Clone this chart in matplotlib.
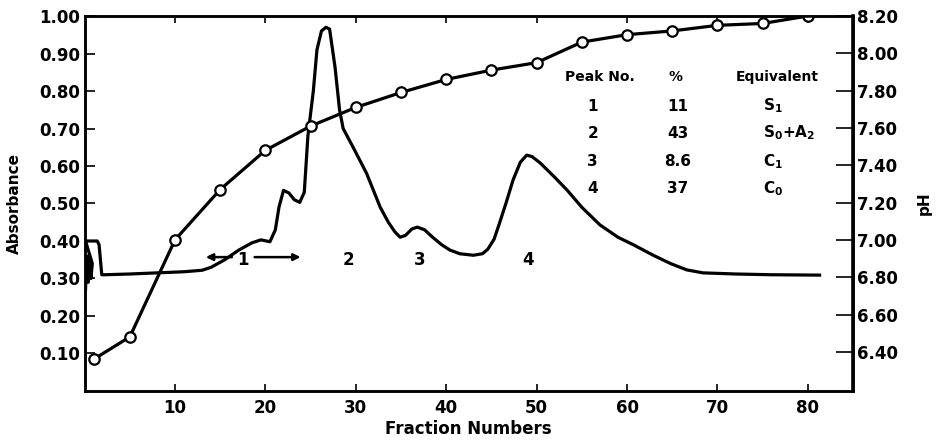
import numpy as np
import matplotlib.pyplot as plt

# Absorbance trace (fraction number, absorbance)
abs_x = [0.1, 0.25, 0.4, 0.55, 0.7, 0.85, 0.1, 1.4, 1.6, 1.9, 2.2, 5, 8, 11, 13, 14, 15.5, 17,
         18.5, 19.5, 20.5, 21.1, 21.5, 22.0, 22.6, 23.2, 23.8, 24.3, 24.7, 25.3, 25.7, 26.2,
         26.7, 27.1, 27.7, 28.2, 28.6, 29.7, 31.2, 32.7, 33.6, 34.3, 34.9, 35.5, 36.2, 36.8,
         37.6, 38.5, 39.5, 40.4, 41.5, 43.0, 44.0, 44.6, 45.3, 45.9, 46.6, 47.4, 48.2, 48.9,
         49.5, 50.4, 52, 53.4, 55, 57, 59, 60.7, 62.9, 64.8, 66.6, 68.4, 72, 76, 81.3]
abs_y = [0.27, 0.36, 0.29, 0.35, 0.30, 0.34, 0.40, 0.40, 0.39, 0.31, 0.31, 0.312, 0.315, 0.318,
         0.322, 0.33, 0.35, 0.375, 0.395, 0.403, 0.398, 0.43, 0.49, 0.535, 0.528, 0.51, 0.503,
         0.53, 0.68, 0.80, 0.91, 0.96, 0.97, 0.965, 0.864, 0.75, 0.70, 0.65, 0.58, 0.49, 0.45,
         0.425, 0.41, 0.415, 0.432, 0.437, 0.43, 0.41, 0.39, 0.376, 0.366, 0.362, 0.366, 0.378,
         0.405, 0.448, 0.50, 0.563, 0.61, 0.629, 0.625, 0.608, 0.57, 0.535, 0.49, 0.443, 0.41,
         0.39, 0.362, 0.34, 0.323, 0.315, 0.312, 0.31, 0.309]

# pH of the fractions
ph_x = [1, 5, 10, 15, 20, 25, 30, 35, 40, 45, 50, 55, 60, 65, 70, 75, 80]
ph_y = [6.36, 6.48, 7.00, 7.27, 7.48, 7.61, 7.71, 7.79, 7.86, 7.91, 7.95, 8.06, 8.10, 8.12,
        8.15, 8.16, 8.20]

# peak table
peak_no = ['1', '2', '3', '4']
peak_pct = ['11', '43', '8.6', '37']
peak_eq = [r'S$_1$', r'S$_0$+A$_2$', r'C$_1$', r'C$_0$']
peak_label_x = [29.2, 37.1, 49.0]

abs_ticks = [0.10, 0.20, 0.30, 0.40, 0.50, 0.60, 0.70, 0.80, 0.90, 1.00]
ph_ticks = [6.40, 6.60, 6.80, 7.00, 7.20, 7.40, 7.60, 7.80, 8.00, 8.20]
x_ticks = [10, 20, 30, 40, 50, 60, 70, 80]

plt.rcParams['font.family'] = 'DejaVu Sans'
plt.rcParams['font.weight'] = 'bold'

fig = plt.figure(figsize=(9.38, 4.41), dpi=100)
ax = fig.add_axes([0.0902, 0.1134, 0.8192, 0.8503])
ax2 = ax.twinx()

ax.plot(abs_x, abs_y, color='black', lw=2.3, solid_joinstyle='round')
ax2.plot(ph_x, ph_y, color='black', lw=2.3, marker='o', ms=7.5,
         mfc='white', mec='black', mew=1.6)

ax.set_xlim(0, 85)
ax.set_ylim(0, 1.0)
ax2.set_ylim(6.19, 8.20)

ax.set_xticks(x_ticks)
ax.set_xticklabels([str(v) for v in x_ticks], fontsize=12, fontweight='bold')
ax.set_yticks(abs_ticks)
ax.set_yticklabels(['%.2f' % v for v in abs_ticks], fontsize=12, fontweight='bold')
ax2.set_yticks(ph_ticks)
ax2.set_yticklabels(['%.2f' % v for v in ph_ticks], fontsize=12, fontweight='bold')

ax.tick_params(axis='x', direction='in', length=5, width=1.2, top=True, pad=6)
ax.tick_params(axis='y', direction='in', length=7, width=1.2, pad=3)
ax2.tick_params(axis='y', direction='in', length=12, width=1.2, pad=3)

for sp in ax2.spines.values():
    sp.set_linewidth(1.8)
for sp in ax.spines.values():
    sp.set_linewidth(1.8)
ax2.spines['right'].set_linewidth(2.6)

ax.set_xlabel('Fraction Numbers', fontsize=12, fontweight='bold', labelpad=2)
ax.set_ylabel('Absorbance', fontsize=11, fontweight='bold')
ax.yaxis.set_label_coords(-0.082, 0.5)
ax2.set_ylabel('pH', fontsize=11, fontweight='bold', rotation=90)
ax2.yaxis.set_label_coords(1.083, 0.5)

# peak markers
ax.annotate('', xy=(13.1, 0.357), xytext=(16.6, 0.357),
            arrowprops=dict(arrowstyle='-|>', color='black', lw=1.8, mutation_scale=10))
ax.annotate('', xy=(24.2, 0.357), xytext=(18.5, 0.357),
            arrowprops=dict(arrowstyle='-|>', color='black', lw=1.8, mutation_scale=10))
ax.text(17.5, 0.35, '1', fontsize=12, fontweight='bold', ha='center', va='center')
for px, lab in zip(peak_label_x, ['2', '3', '4']):
    ax.text(px, 0.35, lab, fontsize=12, fontweight='bold', ha='center', va='center')

# table
row_y = [0.76, 0.688, 0.611, 0.539]
ax.text(57.0, 0.837, 'Peak No.', fontsize=10, fontweight='bold', ha='center', va='center')
ax.text(65.4, 0.837, '%', fontsize=10, fontweight='bold', ha='center', va='center')
ax.text(76.6, 0.837, 'Equivalent', fontsize=10, fontweight='bold', ha='center', va='center')
for yy, n, p, e in zip(row_y, peak_no, peak_pct, peak_eq):
    ax.text(56.2, yy, n, fontsize=11, fontweight='bold', ha='center', va='center')
    ax.text(65.6, yy, p, fontsize=11, fontweight='bold', ha='center', va='center')
    ax.text(75.0, yy, e, fontsize=11, fontweight='bold', ha='left', va='center')

fig.savefig('out.png', dpi=100)
